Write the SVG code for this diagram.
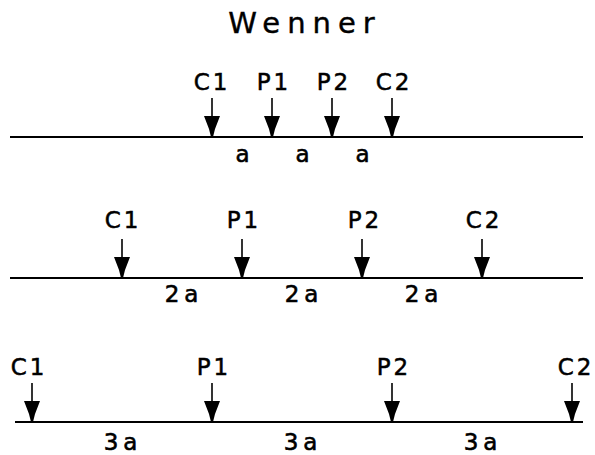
<svg xmlns="http://www.w3.org/2000/svg" width="595" height="455" viewBox="0 0 595 455">
<defs>
<style>
.bg{fill:#fff}
.line{stroke:#000;stroke-width:2;fill:none}
.shaft{stroke:#000;stroke-width:1.6;fill:none}
.head{fill:#000}
.lbl{font-family:"DejaVu Sans","Liberation Sans",Arial,sans-serif;font-size:23px;fill:#000;text-anchor:middle;letter-spacing:3px;stroke:#000;stroke-width:0.5}
.dist{font-family:"DejaVu Sans","Liberation Sans",Arial,sans-serif;font-size:23px;fill:#000;text-anchor:middle;letter-spacing:5px;stroke:#000;stroke-width:0.6}
.title{font-family:"DejaVu Sans","Liberation Sans",Arial,sans-serif;font-size:29px;fill:#000;text-anchor:middle;letter-spacing:7px;stroke:#000;stroke-width:0.4}
</style>
<g id="arrow">
<line class="shaft" x1="0" y1="-39" x2="0" y2="-14"/>
<polygon class="head" points="-8,-21 8,-21 3,-8 1,0 -1,0 -3,-8"/>
</g>
</defs>
<rect class="bg" x="0" y="0" width="595" height="455"/>
<text id="title" class="title" x="305" y="33">Wenner</text>

<g id="connectors">
<line class="line" x1="10" y1="137" x2="583" y2="137"/>
<line class="line" x1="10" y1="278" x2="583" y2="278"/>
<line class="line" x1="15" y1="422" x2="583" y2="422"/>
</g>

<g id="row1">
<g id="r1-c1"><use href="#arrow" x="212" y="137"/><text class="lbl" x="212" y="90">C1</text></g>
<g id="r1-p1"><use href="#arrow" x="272" y="137"/><text class="lbl" x="274" y="90">P1</text></g>
<g id="r1-p2"><use href="#arrow" x="332" y="137"/><text class="lbl" x="334" y="90">P2</text></g>
<g id="r1-c2"><use href="#arrow" x="392" y="137"/><text class="lbl" x="394" y="90">C2</text></g>
<text class="dist" x="245" y="162">a</text>
<text class="dist" x="305" y="162">a</text>
<text class="dist" x="365" y="162">a</text>
</g>

<g id="row2">
<g id="r2-c1"><use href="#arrow" x="122" y="278"/><text class="lbl" x="123" y="228">C1</text></g>
<g id="r2-p1"><use href="#arrow" x="242" y="278"/><text class="lbl" x="244" y="228">P1</text></g>
<g id="r2-p2"><use href="#arrow" x="362" y="278"/><text class="lbl" x="365" y="228">P2</text></g>
<g id="r2-c2"><use href="#arrow" x="482" y="278"/><text class="lbl" x="484" y="228">C2</text></g>
<text class="dist" x="184" y="302">2a</text>
<text class="dist" x="304" y="302">2a</text>
<text class="dist" x="424" y="302">2a</text>
</g>

<g id="row3">
<g id="r3-c1"><use href="#arrow" x="32" y="422"/><text class="lbl" x="29" y="375">C1</text></g>
<g id="r3-p1"><use href="#arrow" x="212" y="422"/><text class="lbl" x="214" y="375">P1</text></g>
<g id="r3-p2"><use href="#arrow" x="392" y="422"/><text class="lbl" x="394" y="375">P2</text></g>
<g id="r3-c2"><use href="#arrow" x="572" y="422"/><text class="lbl" x="576" y="375">C2</text></g>
<text class="dist" x="123" y="450">3a</text>
<text class="dist" x="303" y="450">3a</text>
<text class="dist" x="483" y="450">3a</text>
</g>
</svg>
